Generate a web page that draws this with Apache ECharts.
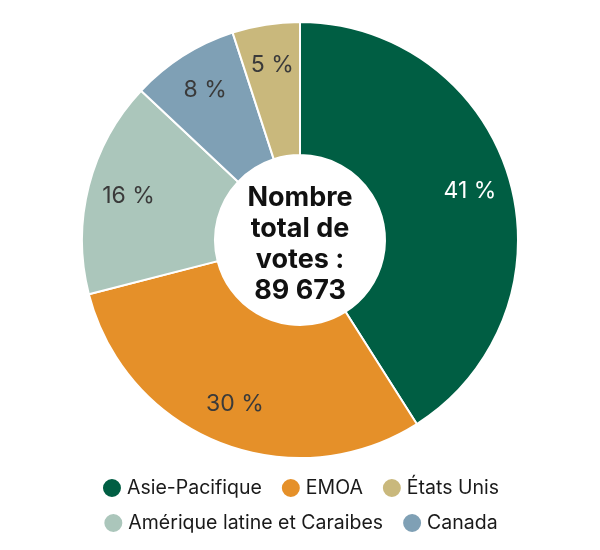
<!DOCTYPE html>
<html lang="fr">
<head>
    <meta charset="UTF-8">
    <title>Votes par région</title>
    <script src="https://cdn.jsdelivr.net/npm/echarts@6/dist/echarts.min.js"></script>
</head>
<body style="margin:0;background:#fff">
    <div id="main" style="width: 600px;height:550px;"></div>
    <script type="text/javascript">
        // données
        var regions = ['Asie-Pacifique', 'EMOA', 'Amérique latine et Caraibes', 'Canada', 'États Unis'];
        var shares = [41, 30, 16, 8, 5];
        var colors = ['#005e43', '#e59029', '#abc6bb', '#7fa0b5', '#c9b87c'];
        var labelColors = ['#ffffff', '#3a3a3a', '#3a3a3a', '#3a3a3a', '#3a3a3a'];
        var legendRow1 = ['Asie-Pacifique', 'EMOA', 'États Unis'];
        var legendRow2 = ['Amérique latine et Caraibes', 'Canada'];
        var centerText = 'Nombre\ntotal de\nvotes :\n89 673';

        var font = 'Inter, "Open Sans", sans-serif';

        var pieData = regions.map(function (name, i) {
            return { name: name, value: shares[i], itemStyle: { color: colors[i] } };
        });
        var labelData = regions.map(function (name, i) {
            return {
                name: name, value: shares[i],
                itemStyle: { color: 'rgba(0,0,0,0)' },
                label: { color: labelColors[i] }
            };
        });

        var myChart = echarts.init(document.getElementById('main'));
        var legendBase = {
            left: 'center',
            icon: 'circle',
            itemWidth: 20,
            itemHeight: 20,
            itemGap: 18,
            textStyle: { fontFamily: font, fontSize: 19.5, color: '#1a1a1a' },
            selectedMode: false
        };
        myChart.setOption({
            animation: false,
            legend: [
                Object.assign({}, legendBase, { top: 472, data: legendRow1 }),
                Object.assign({}, legendBase, { top: 507, data: legendRow2 })
            ],
            graphic: [{
                type: 'text',
                left: 'center',
                top: 182,
                style: {
                    text: centerText,
                    font: 'bold 27px ' + font,
                    lineHeight: 31,
                    fill: '#111',
                    textAlign: 'center'
                }
            }],
            series: [{
                type: 'pie',
                center: [300, 240],
                radius: [85, 218],
                startAngle: 90,
                clockwise: true,
                silent: true,
                label: { show: false },
                labelLine: { show: false },
                itemStyle: { borderColor: '#fff', borderWidth: 2 },
                data: pieData
            }, {
                type: 'pie',
                center: [300, 240],
                radius: [130, 218],
                startAngle: 90,
                clockwise: true,
                silent: true,
                legendHoverLink: false,
                label: {
                    show: true,
                    position: 'inside',
                    formatter: '{c} %',
                    fontFamily: font,
                    fontSize: 23
                },
                labelLine: { show: false },
                data: labelData
            }]
        });
    </script>
</body>
</html>
